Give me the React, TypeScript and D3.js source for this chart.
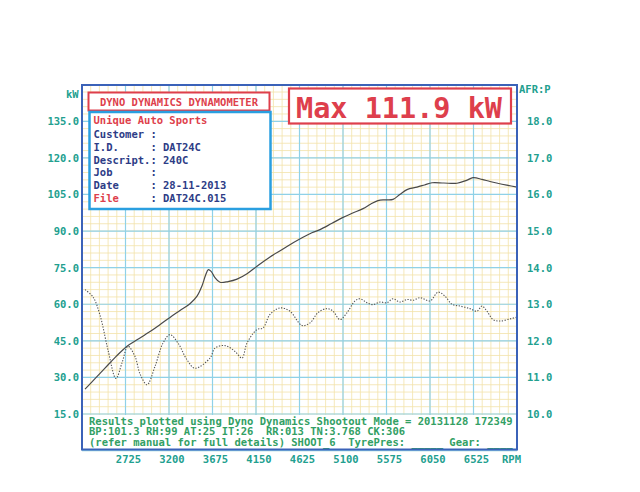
import { useEffect, useRef } from 'react';
import * as d3 from 'd3';

// axis ticks
const kwTicks = [15, 30, 45, 60, 75, 90, 105, 120, 135];
const afrTicks = [10, 11, 12, 13, 14, 15, 16, 17, 18];
const rpmTicks = [2725, 3200, 3675, 4150, 4625, 5100, 5575, 6050, 6525];

// power trace (kW vs rpm)
const powerRpm = [2283, 2400, 2501, 2620, 2738, 2860, 2993, 3100, 3211, 3320, 3429, 3506, 3560, 3600, 3629, 3660, 3700, 3757, 3845, 3943, 4052, 4161, 4303, 4445, 4560, 4663, 4760, 4849, 4980, 5100, 5200, 5319, 5400, 5482, 5560, 5646, 5720, 5799, 5908, 5990, 6072, 6200, 6345, 6450, 6520, 6618, 6705, 6800, 6891, 7000];
const powerKw = [25.2, 29.8, 33.8, 38.5, 42.7, 45.6, 48.8, 51.6, 54.6, 57.4, 60.2, 63.3, 67.5, 72.0, 74.2, 73.5, 71.0, 69.0, 69.3, 70.3, 72.5, 75.6, 79.4, 82.6, 85.3, 87.5, 89.3, 90.6, 93.2, 95.6, 97.3, 99.2, 101.0, 102.5, 102.8, 103.0, 105.0, 107.0, 108.0, 108.9, 109.8, 109.7, 109.6, 110.8, 111.9, 111.2, 110.3, 109.5, 108.8, 108.0];

// air/fuel ratio trace
const afrRpm = [2283, 2370, 2447, 2534, 2621, 2687, 2752, 2829, 2883, 2960, 3047, 3135, 3211, 3298, 3397, 3484, 3648, 3702, 3812, 3921, 3997, 4052, 4161, 4227, 4303, 4412, 4521, 4652, 4740, 4827, 4925, 4991, 5067, 5144, 5231, 5286, 5362, 5428, 5504, 5580, 5646, 5723, 5799, 5865, 5941, 6050, 6138, 6214, 6290, 6378, 6487, 6563, 6618, 6672, 6738, 6814, 6924, 7000];
const afrValues = [13.4, 13.2, 12.7, 11.75, 10.97, 11.4, 11.85, 11.57, 11.1, 10.8, 11.3, 11.94, 12.17, 11.94, 11.48, 11.25, 11.53, 11.8, 11.87, 11.71, 11.53, 11.94, 12.31, 12.35, 12.72, 12.9, 12.81, 12.42, 12.49, 12.77, 12.88, 12.81, 12.58, 12.77, 13.09, 13.15, 13.04, 12.99, 13.06, 13.04, 13.15, 13.06, 13.13, 13.11, 13.18, 13.09, 13.33, 13.22, 13.0, 12.95, 12.88, 12.81, 12.95, 12.81, 12.58, 12.54, 12.6, 12.65];

const infoLabels = ['Customer', 'I.D.', 'Descript.', 'Job', 'Date', 'File'];
const infoValues = ['', 'DAT24C', '240C', '', '28-11-2013', 'DAT24C.015'];
const footerLines = [
  'Results plotted using Dyno Dynamics Shootout Mode = 20131128 172349',
  'BP:101.3 RH:99 AT:25 IT:26  RR:013 TN:3.768 CK:306',
  '(refer manual for full details) SHOOT_6  TyrePres: _____ Gear: ____',
];

const MONO = '"DejaVu Sans Mono", "Liberation Mono", monospace';
const TEAL = '#22a08f';
const RED = '#de3f4c';
const NAVY = '#2d3c86';
const FRAME = '#3b62b8';

const App = () => {
  const svgRef = useRef<SVGSVGElement | null>(null);

  useEffect(() => {
    if (!svgRef.current) return;
    const svg = d3.select(svgRef.current);
    svg.selectAll('*').remove();

    const left = 82, right = 517, frameTop = 85, frameBottom = 449.5;
    const x = d3.scaleLinear().domain([2250, 7000]).range([left, right]);
    const yKw = d3.scaleLinear().domain([0, 150]).range([450.6, 84.7]);
    const yAfr = d3.scaleLinear().domain([10, 18]).range([yKw(15), yKw(135)]);

    svg.append('rect').attr('width', 640).attr('height', 492).attr('fill', '#ffffff');

    const grid = svg.append('g');
    // minor grid
    d3.range(2250, 7001, 95).forEach(r => {
      grid.append('line')
        .attr('x1', x(r)).attr('x2', x(r))
        .attr('y1', frameTop).attr('y2', frameBottom)
        .attr('stroke', '#f3e2aa').attr('stroke-width', 0.8);
    });
    d3.range(0, 151, 3).forEach(k => {
      grid.append('line')
        .attr('x1', left).attr('x2', right)
        .attr('y1', yKw(k)).attr('y2', yKw(k))
        .attr('stroke', '#f3e2aa').attr('stroke-width', 0.8);
    });
    // major grid
    d3.range(2250, 7001, 475).forEach(r => {
      grid.append('line')
        .attr('x1', x(r)).attr('x2', x(r))
        .attr('y1', frameTop).attr('y2', frameBottom)
        .attr('stroke', '#8fd1e8').attr('stroke-width', 1.2);
    });
    d3.range(0, 151, 15).forEach(k => {
      grid.append('line')
        .attr('x1', left).attr('x2', right)
        .attr('y1', yKw(k)).attr('y2', yKw(k))
        .attr('stroke', '#8fd1e8').attr('stroke-width', 1.2);
    });

    // traces
    const powerLine = d3.line<number>()
      .x((_, i) => x(powerRpm[i]))
      .y(d => yKw(d))
      .curve(d3.curveCatmullRom);
    svg.append('path')
      .datum(powerKw)
      .attr('fill', 'none')
      .attr('stroke', '#4a4a4a')
      .attr('stroke-width', 1.2)
      .attr('d', powerLine);

    const afrLine = d3.line<number>()
      .x((_, i) => x(afrRpm[i]))
      .y(d => yAfr(d))
      .curve(d3.curveCatmullRom);
    svg.append('path')
      .datum(afrValues)
      .attr('fill', 'none')
      .attr('stroke', '#555555')
      .attr('stroke-width', 1.1)
      .attr('stroke-dasharray', '1.3 1.5')
      .attr('d', afrLine);

    // footer panel
    svg.append('rect')
      .attr('x', left).attr('y', yKw(15) + 1)
      .attr('width', right - left).attr('height', frameBottom - yKw(15) - 1)
      .attr('fill', '#ffffff');
    footerLines.forEach((t, i) => {
      svg.append('text')
        .attr('x', 89).attr('y', 424.5 + i * 10.8)
        .style('white-space', 'pre')
        .attr('font-family', MONO).attr('font-weight', 'bold').attr('font-size', 10.5)
        .attr('fill', '#32a064')
        .text(t);
    });

    // frame
    svg.append('rect')
      .attr('x', left).attr('y', frameTop)
      .attr('width', right - left).attr('height', frameBottom - frameTop)
      .attr('fill', 'none').attr('stroke', FRAME).attr('stroke-width', 2);

    // axis labels
    const labels = svg.append('g')
      .attr('font-family', MONO).attr('font-weight', 'bold').attr('font-size', 10.5).attr('fill', TEAL);
    kwTicks.forEach(k => {
      labels.append('text')
        .attr('x', 79).attr('y', yKw(k) + 4)
        .attr('text-anchor', 'end')
        .text(k.toFixed(1));
    });
    afrTicks.forEach(a => {
      labels.append('text')
        .attr('x', 527).attr('y', yAfr(a) + 4)
        .text(a.toFixed(1));
    });
    rpmTicks.forEach(r => {
      labels.append('text')
        .attr('x', x(r) + 3).attr('y', 462.5)
        .attr('text-anchor', 'middle')
        .text(String(r));
    });
    labels.append('text').attr('x', 502).attr('y', 462.5).text('RPM');
    labels.append('text').attr('x', 66).attr('y', 98).text('kW');
    labels.append('text').attr('x', 519).attr('y', 93).text('AFR:P');

    // title box
    svg.append('rect')
      .attr('x', 88.5).attr('y', 92.5).attr('width', 181).attr('height', 18)
      .attr('fill', '#ffffff').attr('stroke', RED).attr('stroke-width', 2);
    svg.append('text')
      .attr('x', 179).attr('y', 105.5)
      .attr('text-anchor', 'middle')
      .attr('font-family', MONO).attr('font-weight', 'bold').attr('font-size', 10.5)
      .attr('fill', RED)
      .text('DYNO DYNAMICS DYNAMOMETER');

    // info box
    svg.append('rect')
      .attr('x', 89.5).attr('y', 112).attr('width', 181).attr('height', 97)
      .attr('fill', '#ffffff').attr('stroke', '#2a9fe0').attr('stroke-width', 2.5);
    const info = svg.append('g')
      .attr('font-family', MONO).attr('font-weight', 'bold').attr('font-size', 10.5);
    info.append('text')
      .attr('x', 93.5).attr('y', 124)
      .attr('fill', RED)
      .text('Unique Auto Sports');
    const cw = 10.5 * 0.602;
    infoLabels.forEach((lab, i) => {
      const yy = 138 + i * 12.8;
      const col = lab === 'File' ? RED : NAVY;
      info.append('text').attr('x', 93.5).attr('y', yy).attr('fill', col).text(lab);
      info.append('text').attr('x', 93.5 + cw * 9).attr('y', yy).attr('fill', NAVY).text(':');
      if (infoValues[i]) {
        info.append('text').attr('x', 93.5 + cw * 11).attr('y', yy).attr('fill', NAVY).text(infoValues[i]);
      }
    });

    // max box
    svg.append('rect')
      .attr('x', 289).attr('y', 88.5).attr('width', 222).attr('height', 35)
      .attr('fill', '#ffffff').attr('stroke', RED).attr('stroke-width', 2.2);
    svg.append('text')
      .attr('x', 399).attr('y', 118)
      .attr('text-anchor', 'middle')
      .attr('font-family', MONO).attr('font-weight', 'bold').attr('font-size', 28.5)
      .attr('fill', RED)
      .text('Max 111.9 kW');
  }, []);

  return (
    <svg
      ref={svgRef}
      width={640}
      height={492}
      style={{ position: 'absolute', left: 0, top: 0, display: 'block' }}
    />
  );
};

export default App;
